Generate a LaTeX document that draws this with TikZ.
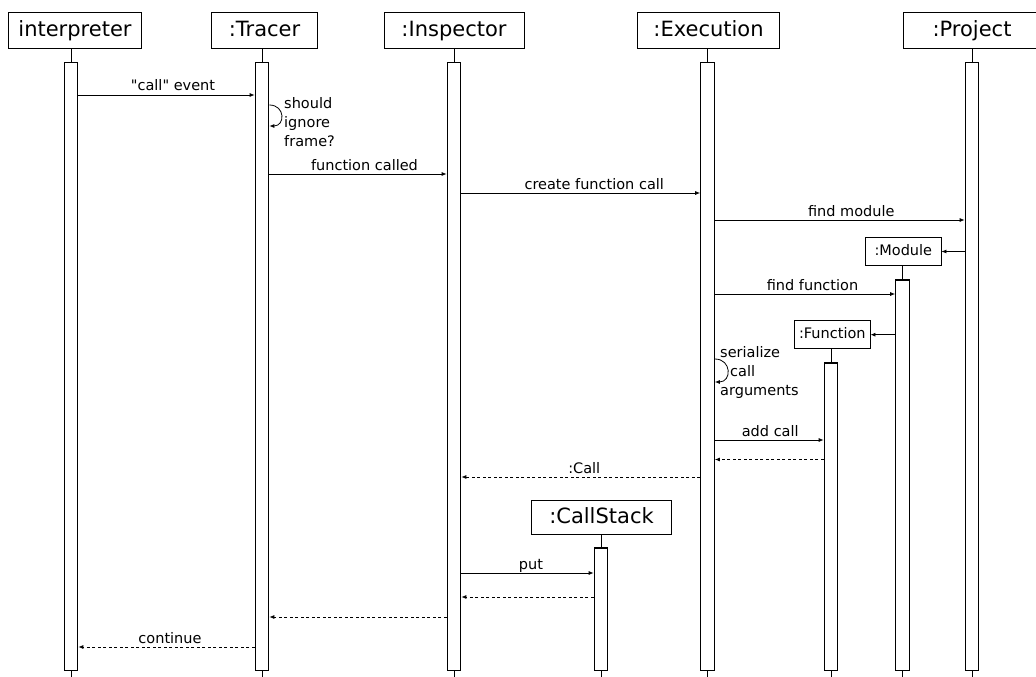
\documentclass[tikz,border=0pt]{standalone}
\usepackage{fontspec}
\setmainfont{DejaVu Sans}[Ligatures=TeXOff]
\usetikzlibrary{arrows.meta}
\begin{document}
\begin{tikzpicture}[x=1pt,y=-1pt,
  hdr/.style={draw,line width=1pt,fill=white,inner sep=0pt,minimum height=35.6pt,text height=15pt,text depth=2.5pt,font=\fontsize{21}{25}\selectfont},
  obj/.style={draw,line width=0.9pt,fill=white,inner sep=0pt,minimum width=75.3pt,minimum height=28.4pt,text height=10.5pt,text depth=2pt,font=\fontsize{14.5}{17}\selectfont},
  bigobj/.style={draw,line width=1pt,fill=white,inner sep=0pt,minimum width=140pt,minimum height=34pt,text height=15pt,text depth=2.5pt,font=\fontsize{21}{25}\selectfont},
  bar/.style={draw,line width=1.2pt,fill=white,inner sep=0pt,minimum width=13.5pt,anchor=north},
  stub/.style={line width=1pt},
  msg/.style={-{Latex[length=5pt,width=4pt]},line width=0.8pt},
  ret/.style={msg,dash pattern=on 3pt off 2.5pt},
  lbl/.style={font=\fontsize{14.5}{17}\selectfont,anchor=base,inner sep=0pt,midway,yshift=4pt},
  txt/.style={font=\fontsize{14.5}{17}\selectfont,anchor=base west,inner sep=0pt}]
\useasboundingbox (0,0) rectangle (1036,677);
\coordinate (bot) at (0,677);
% header boxes
\node[hdr,minimum width=133.4pt] (interp) at (75,30.5) {interpreter};
\node[hdr,minimum width=105.6pt] (tr) at (264.5,30.5) {:Tracer};
\node[hdr,minimum width=140pt] (insp) at (454,30.5) {:Inspector};
\node[hdr,minimum width=142.4pt] (ex) at (708.5,30.5) {:Execution};
\node[hdr,minimum width=138pt] (pr) at (972,30.5) {:Project};
\node[obj] (mod) at (903.3,251.5) {:Module};
\node[obj] (fn) at (832.3,334.7) {:Function};
\node[bigobj] (cs) at (601.5,517) {:CallStack};
% activation bars
\node[bar,minimum height=607.8pt] (interpA) at (71,61.7) {};
\node[bar,minimum height=607.8pt] (trA) at (262,61.7) {};
\node[bar,minimum height=607.8pt] (inspA) at (454,61.7) {};
\node[bar,minimum height=607.8pt] (exA) at (707.5,61.7) {};
\node[bar,minimum height=607.8pt] (prA) at (972,61.7) {};
\node[bar,minimum height=390.2pt] (modA) at (902.5,279.3) {};
\node[bar,minimum height=307.2pt] (fnA) at (831,362.3) {};
\node[bar,minimum height=122.2pt] (csA) at (601,547.3) {};
% lifeline stubs
\foreach \b/\h in {interpA/interp,trA/tr,inspA/insp,exA/ex,prA/pr,modA/mod,fnA/fn,csA/cs}{
  \draw[stub] (\b.north |- \h.south) -- (\b.north);
  \draw[stub] (\b.south) -- (\b.south |- bot);
}
% message rows
\coordinate (m1) at (0,95);
\coordinate (s1a) at (0,105);
\coordinate (s1b) at (0,126);
\coordinate (m2) at (0,174);
\coordinate (m3) at (0,193);
\coordinate (m4) at (0,220);
\coordinate (m5) at (0,294);
\coordinate (s2a) at (0,359);
\coordinate (s2b) at (0,382);
\coordinate (m6) at (0,440);
\coordinate (m7) at (0,459.5);
\coordinate (m8) at (0,477);
\coordinate (m9) at (0,573);
\coordinate (m10) at (0,597);
\coordinate (m11) at (0,617);
\coordinate (m12) at (0,647);
% messages
\draw[msg] (interpA.east |- m1) -- (trA.west |- m1) node[lbl,xshift=6.5pt] {"call" event};
\draw[msg] (trA.east |- s1a) .. controls +(16,0) and +(16,0) .. (trA.east |- s1b);
\node[txt] (t1) at (284,108) {should};
\node[txt] (t2) at (284,127) {ignore};
\node[txt] (t3) at (284,146) {frame?};
\draw[msg] (trA.east |- m2) -- (inspA.west |- m2) node[lbl,xshift=6.5pt] {function called};
\draw[msg] (inspA.east |- m3) -- (exA.west |- m3) node[lbl,xshift=13.5pt] {create function call};
\draw[msg] (exA.east |- m4) -- (prA.west |- m4) node[lbl,xshift=11.5pt] {find module};
\draw[msg] (prA.west |- mod.east) -- (mod.east);
\draw[msg] (exA.east |- m5) -- (modA.west |- m5) node[lbl,xshift=7.5pt] {find function};
\draw[msg] (modA.west |- fn.east) -- (fn.east);
\draw[msg] (exA.east |- s2a) .. controls +(17,0) and +(17,0) .. (exA.east |- s2b);
\node[txt] (t4) at (720,357.5) {serialize};
\node[txt] (t5) at (730,376.5) {call};
\node[txt] (t6) at (720,395) {arguments};
\draw[msg] (exA.east |- m6) -- (fnA.west |- m6) node[lbl,xshift=1pt] {add call};
\draw[ret] (fnA.west |- m7) -- (exA.east |- m7);
\draw[ret] (exA.west |- m8) -- (inspA.east |- m8) node[lbl,xshift=3.5pt] {:Call};
\draw[msg] (inspA.east |- m9) -- (csA.west |- m9) node[lbl,xshift=3.5pt] {put};
\draw[ret] (csA.west |- m10) -- (inspA.east |- m10);
\draw[ret] (inspA.west |- m11) -- (trA.east |- m11);
\draw[ret] (trA.west |- m12) -- (interpA.east |- m12) node[lbl,xshift=3.5pt] {continue};
\end{tikzpicture}
\end{document}
